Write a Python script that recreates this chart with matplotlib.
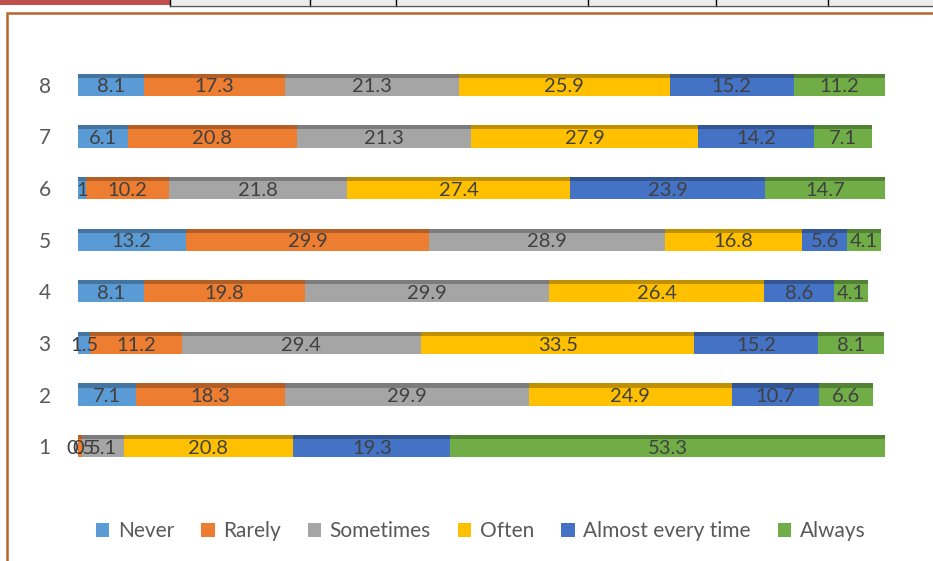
import matplotlib
matplotlib.use('Agg')
import matplotlib.pyplot as plt
import matplotlib.colors as mcolors
from matplotlib.patches import Rectangle

# chart data
rows = ['1', '2', '3', '4', '5', '6', '7', '8']
series = ['Never', 'Rarely', 'Sometimes', 'Often', 'Almost every time', 'Always']
never = [0, 7.1, 1.5, 8.1, 13.2, 1, 6.1, 8.1]
rarely = [0.5, 18.3, 11.2, 19.8, 29.9, 10.2, 20.8, 17.3]
sometimes = [5.1, 29.9, 29.4, 29.9, 28.9, 21.8, 21.3, 21.3]
often = [20.8, 24.9, 33.5, 26.4, 16.8, 27.4, 27.9, 25.9]
almost = [19.3, 10.7, 15.2, 8.6, 5.6, 23.9, 14.2, 15.2]
always = [53.3, 6.6, 8.1, 4.1, 4.1, 14.7, 7.1, 11.2]
colors = ['#5B9BD5', '#ED7D31', '#A5A5A5', '#FFC000', '#4472C4', '#70AD47']

values = [never, rarely, sometimes, often, almost, always]

plt.rcParams['font.family'] = ['Lato', 'DejaVu Sans']

W, H = 933, 561
fig = plt.figure(figsize=(W / 100, H / 100), dpi=100)

# spreadsheet strip on top and chart frame
fig.patches.append(Rectangle((0, 1 - 5 / H), 170 / W, 5 / H, transform=fig.transFigure,
                             facecolor='#C0504D', edgecolor='none'))
fig.patches.append(Rectangle((170 / W, 1 - 5 / H), 1, 5 / H, transform=fig.transFigure,
                             facecolor='#ECECEC', edgecolor='none'))
for xc in [170, 310, 396, 588, 716, 828]:
    fig.add_artist(plt.Line2D([xc / W, xc / W], [1 - 6 / H, 1], transform=fig.transFigure,
                              color='black', lw=1))
fig.add_artist(plt.Line2D([170 / W, 1], [1 - 6 / H, 1 - 6 / H], transform=fig.transFigure,
                          color='#555555', lw=1))
fig.patches.append(Rectangle((7 / W, -0.1), 1.1, 1 - 13 / H + 0.1, transform=fig.transFigure,
                             facecolor='none', edgecolor='#B5652F', lw=1.8))

ax = fig.add_axes([78 / W, (561 - 472) / H, (893 - 78) / W, (472 - 59) / H])
ax.set_xlim(0, 100)
ax.set_ylim(0.5, 8.5)

ypos = list(range(1, len(rows) + 1))
left = [0] * len(rows)
bh = 0.43
for name, vals, col in zip(series, values, colors):
    dark = [c * 0.75 for c in mcolors.to_rgb(col)]
    ax.barh(ypos, vals, height=bh, left=left, color=col, label=name, edgecolor='none')
    # darker top band for the 3D look
    ax.barh([y + bh / 2 - 0.04 for y in ypos], vals, height=0.08, left=left,
            color=dark, edgecolor='none')
    for y, v, l in zip(ypos, vals, left):
        ax.text(l + v / 2, y - 0.04, f'{v:g}', ha='center', va='center',
                fontsize=14.5, color='#404040')
    left = [l + v for l, v in zip(left, vals)]

ax.set_yticks(ypos)
ax.set_yticklabels(rows, fontsize=15, color='#595959')
ax.tick_params(axis='y', length=0, pad=24)
for t in ax.get_yticklabels():
    t.set_horizontalalignment('center')
ax.set_xticks([])
for s in ax.spines.values():
    s.set_visible(False)

leg = fig.legend(loc='center', bbox_to_anchor=(0.515, (561 - 531) / H), ncol=6,
                 frameon=False, fontsize=15, handlelength=0.65, handleheight=0.65,
                 handletextpad=0.4, columnspacing=1.3)
for t in leg.get_texts():
    t.set_color('#595959')

fig.savefig('out.png', dpi=100)
